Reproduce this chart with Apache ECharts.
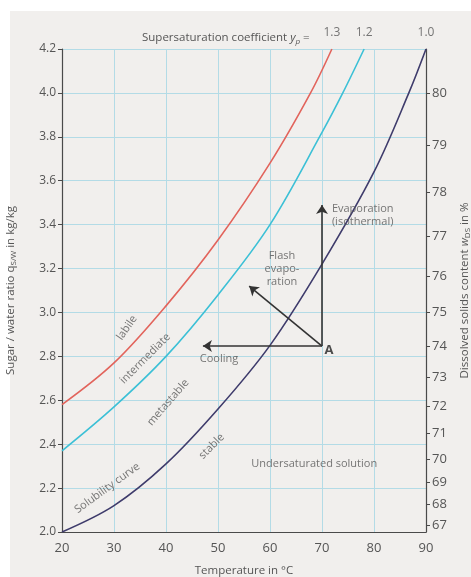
<!DOCTYPE html>
<html>
<head>
<meta charset="utf-8">
<script src="https://cdn.jsdelivr.net/npm/echarts@6/dist/echarts.min.js"></script>
<style>html,body{margin:0;padding:0;background:#fff}#c{width:471px;height:577px}</style>
</head>
<body>
<div id="c"></div>
<script>
// Data
const solubility   = [[20,2.0],[30,2.12],[40,2.31],[50,2.56],[60,2.85],[70,3.22],[80,3.64],[86.7,4.0],[90,4.2]];
const intermediate = [[20,2.37],[30,2.57],[40,2.80],[50,3.08],[60,3.40],[70,3.82],[74,4.0],[78.1,4.2]];
const labile       = [[20,2.58],[30,2.77],[40,3.03],[50,3.33],[60,3.68],[67.8,4.0],[71.9,4.2]];
const ypLabels = ['1.0', '1.2', '1.3'];
const rightTicks = [67,68,69,70,71,72,73,74,75,76,77,78,79,80];
const pointA = [70, 2.847];
const coolingEnd = [47.1, 2.847];
const evapEnd = [70, 3.49];
const flashEnd = [56, 3.12];
const annotations = [
  {pos:[32.5,2.93], text:'labile', rot:55},
  {pos:[36.0,2.79], text:'intermediate', rot:45},
  {pos:[40.4,2.59], text:'metastable', rot:49},
  {pos:[48.8,2.39], text:'stable', rot:45},
  {pos:[28.7,2.20], text:'Solubility curve', rot:36},
  {pos:[68.5,2.31], text:'Undersaturated solution', rot:0},
  {pos:[50.2,2.79], text:'Cooling', rot:0},
  {pos:[62.3,3.20], text:'Flash\nevapo-\nration', rot:0}
];
const evapLabel = {pos:[71.9,3.44], text:'Evaporation\n(isothermal)'};

const txt = '#555';
const font = 'Open Sans';
const gridColor = '#b3dbe6';
const curveColors = ['#3f3c6c', '#3cc0d6', '#e2645c'];
const curves = [solubility, intermediate, labile];

const chart = echarts.init(document.getElementById('c'), null, {renderer: 'canvas'});
chart.setOption({
  animation: false,
  backgroundColor: '#f1efed',
  textStyle: {fontFamily: font},
  graphic: [
    {type: 'rect', left: 0, top: 0, shape: {width: 471, height: 11}, style: {fill: '#ffffff'}, z: -10},
    {type: 'rect', left: 0, top: 0, shape: {width: 10, height: 577}, style: {fill: '#ffffff'}, z: -10}
  ],
  title: {
    left: 137, top: 25,
    text: '{n|Supersaturation coefficient }{i|y}{s|p}{n| =}',
    textStyle: {
      fontWeight: 'normal',
      rich: {
        n: {fontSize: 11.5, color: txt, fontFamily: font, fontWeight: 'normal'},
        i: {fontSize: 11.5, color: txt, fontFamily: font, fontStyle: 'italic', fontWeight: 'normal'},
        s: {fontSize: 8, color: txt, fontFamily: font, fontStyle: 'italic', fontWeight: 'normal', padding: [8, 0, 0, 0]}
      }
    }
  },
  grid: {left: 62, right: 45, top: 49, bottom: 45, containLabel: false, outerBoundsMode: 'none'},
  xAxis: {
    type: 'value', min: 20, max: 90, interval: 10,
    name: 'Temperature in °C', nameLocation: 'middle', nameGap: 33,
    nameTextStyle: {color: txt, fontSize: 11.5, fontFamily: font},
    axisLine: {show: true, onZero: false, lineStyle: {color: '#4a4a4a', width: 1.2}},
    axisTick: {show: false},
    axisLabel: {color: txt, fontSize: 13, margin: 10, fontFamily: font},
    splitLine: {show: true, lineStyle: {color: gridColor, width: 1}}
  },
  yAxis: [
    {
      type: 'value', min: 2.0, max: 4.2, interval: 0.2, position: 'left',
      name: '{n|Sugar / water ratio }{i|q}{s|S/W}{n| in kg/kg}', nameLocation: 'middle', nameGap: 44, nameRotate: 90,
      nameTextStyle: {
        rich: {
          n: {fontSize: 11.5, color: txt, fontFamily: font},
          i: {fontSize: 11.5, color: txt, fontFamily: font},
          s: {fontSize: 8, color: txt, fontFamily: font, padding: [7, 0, 0, 0]}
        }
      },
      axisLine: {show: true, lineStyle: {color: '#4a4a4a', width: 1.2}},
      axisTick: {show: true, length: 4, lineStyle: {color: '#4a4a4a'}},
      axisLabel: {color: txt, fontSize: 12, margin: 6, fontFamily: font, formatter: v => v.toFixed(1)},
      splitLine: {show: true, lineStyle: {color: gridColor, width: 1}}
    },
    {
      type: 'value', min: 2.0, max: 4.2, position: 'right',
      name: '{n|Dissolved solids content }{i|w}{s|DS}{n| in %}', nameLocation: 'middle', nameGap: 31, nameRotate: 90,
      nameTextStyle: {
        rich: {
          n: {fontSize: 11.5, color: txt, fontFamily: font},
          i: {fontSize: 11.5, color: txt, fontFamily: font, fontStyle: 'italic'},
          s: {fontSize: 8, color: txt, fontFamily: font, padding: [7, 0, 0, 0]}
        }
      },
      axisLine: {show: true, lineStyle: {color: '#4a4a4a', width: 1.2}},
      axisTick: {show: true, length: 4, lineStyle: {color: '#4a4a4a'}, customValues: rightTicks.map(w => w / (100 - w))},
      axisLabel: {color: txt, fontSize: 13, margin: 6, fontFamily: font,
        customValues: rightTicks.map(w => w / (100 - w)),
        formatter: v => String(Math.round(100 * v / (1 + v)))},
      splitLine: {show: false}
    }
  ],
  series: curves.map((c, i) => ({
    type: 'line', data: c, smooth: 0.35, showSymbol: false,
    lineStyle: {color: curveColors[i], width: 1.6}, itemStyle: {color: curveColors[i]}, z: 5
  })).concat([
    {
      type: 'scatter', symbolSize: 0, silent: true, clip: false, z: 7,
      data: curves.map((c, i) => ({value: c[c.length - 1],
        label: {show: true, position: 'top', distance: 10, formatter: ypLabels[i], color: txt, fontSize: 12, fontFamily: font}}))
    },
    {
      type: 'lines', coordinateSystem: 'cartesian2d', symbol: ['none', 'arrow'], symbolSize: 9,
      lineStyle: {color: '#333', width: 1.6, opacity: 1}, z: 6, silent: true,
      data: [
        {coords: [pointA, coolingEnd]},
        {coords: [pointA, evapEnd]},
        {coords: [pointA, flashEnd]}
      ]
    },
    {
      type: 'scatter', symbolSize: 0, silent: true, z: 7,
      data: annotations.map(a => ({value: a.pos, label: {show: true, position: 'inside', formatter: a.text, rotate: a.rot,
        color: txt, fontSize: 11, fontFamily: font, lineHeight: 13, align: 'center', verticalAlign: 'middle'}}))
        .concat([
          {value: evapLabel.pos, label: {show: true, position: 'inside', formatter: evapLabel.text, color: txt, fontSize: 11,
            fontFamily: font, lineHeight: 13, align: 'left', verticalAlign: 'middle'}},
          {value: pointA, label: {show: true, position: 'inside', formatter: 'A', color: '#222', fontSize: 13, fontWeight: 'bold',
            fontFamily: font, offset: [7, 4]}}
        ])
    }
  ])
});
</script>
</body>
</html>
